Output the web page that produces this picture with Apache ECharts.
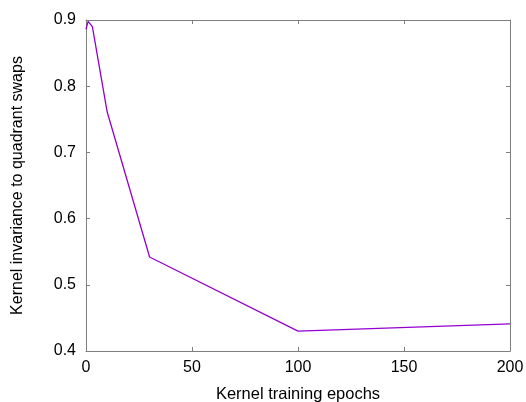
<!DOCTYPE html>
<html><head><meta charset="utf-8">
<script src="https://cdn.jsdelivr.net/npm/echarts@6/dist/echarts.min.js"></script>
<style>html,body{margin:0;padding:0;background:#fff}#c{width:526px;height:402px}</style>
</head><body><div id="c"></div>
<script>
const epochs = [0, 1, 3, 10, 30, 100, 200];
const invariance = [0.886, 0.898, 0.890, 0.761, 0.542, 0.430, 0.441];
const xTicks = [0, 50, 100, 150, 200];
const yTicks = [0.4, 0.5, 0.6, 0.7, 0.8, 0.9];

const frame = '#7f7f7f';
const font = 'Liberation Sans, Helvetica, Arial, sans-serif';
const chart = echarts.init(document.getElementById('c'), null, {renderer: 'canvas'});
const tick = {show: true, inside: true, length: 4, lineStyle: {color: frame, width: 1}};
chart.setOption({
  animation: false,
  grid: {left: 86, right: 16, top: 20, bottom: 51, show: false, containLabel: false, outerBoundsMode: 'none'},
  xAxis: [
    {type: 'value', min: 0, max: 200, interval: 50, position: 'bottom',
     axisLine: {show: true, onZero: false, lineStyle: {color: frame}}, axisTick: tick,
     splitLine: {show: false},
     axisLabel: {color: '#000', fontSize: 16, fontFamily: font, margin: 9},
     name: 'Kernel training epochs', nameLocation: 'middle', nameGap: 35,
     nameTextStyle: {color: '#000', fontSize: 16.5, fontFamily: font}},
    {type: 'value', min: 0, max: 200, interval: 50, position: 'top',
     axisLine: {show: true, onZero: false, lineStyle: {color: frame}}, axisTick: tick,
     splitLine: {show: false}, axisLabel: {show: false}}
  ],
  yAxis: [
    {type: 'value', min: 0.4, max: 0.9, interval: 0.1, position: 'left',
     axisLine: {show: true, onZero: false, lineStyle: {color: frame}}, axisTick: tick,
     splitLine: {show: false},
     axisLabel: {color: '#000', fontSize: 16, fontFamily: font, margin: 10,
                 formatter: v => v.toFixed(1)},
     name: 'Kernel invariance to quadrant swaps', nameLocation: 'middle', nameGap: 60,
     nameTextStyle: {color: '#000', fontSize: 16, fontFamily: font}},
    {type: 'value', min: 0.4, max: 0.9, interval: 0.1, position: 'right',
     axisLine: {show: true, onZero: false, lineStyle: {color: frame}}, axisTick: tick,
     splitLine: {show: false}, axisLabel: {show: false}}
  ],
  series: [{
    type: 'line', xAxisIndex: 0, yAxisIndex: 0,
    data: epochs.map((e, i) => [e, invariance[i]]),
    showSymbol: false, symbol: 'none',
    lineStyle: {color: '#9400d3', width: 1.3},
    clip: true
  }]
});
</script></body></html>
